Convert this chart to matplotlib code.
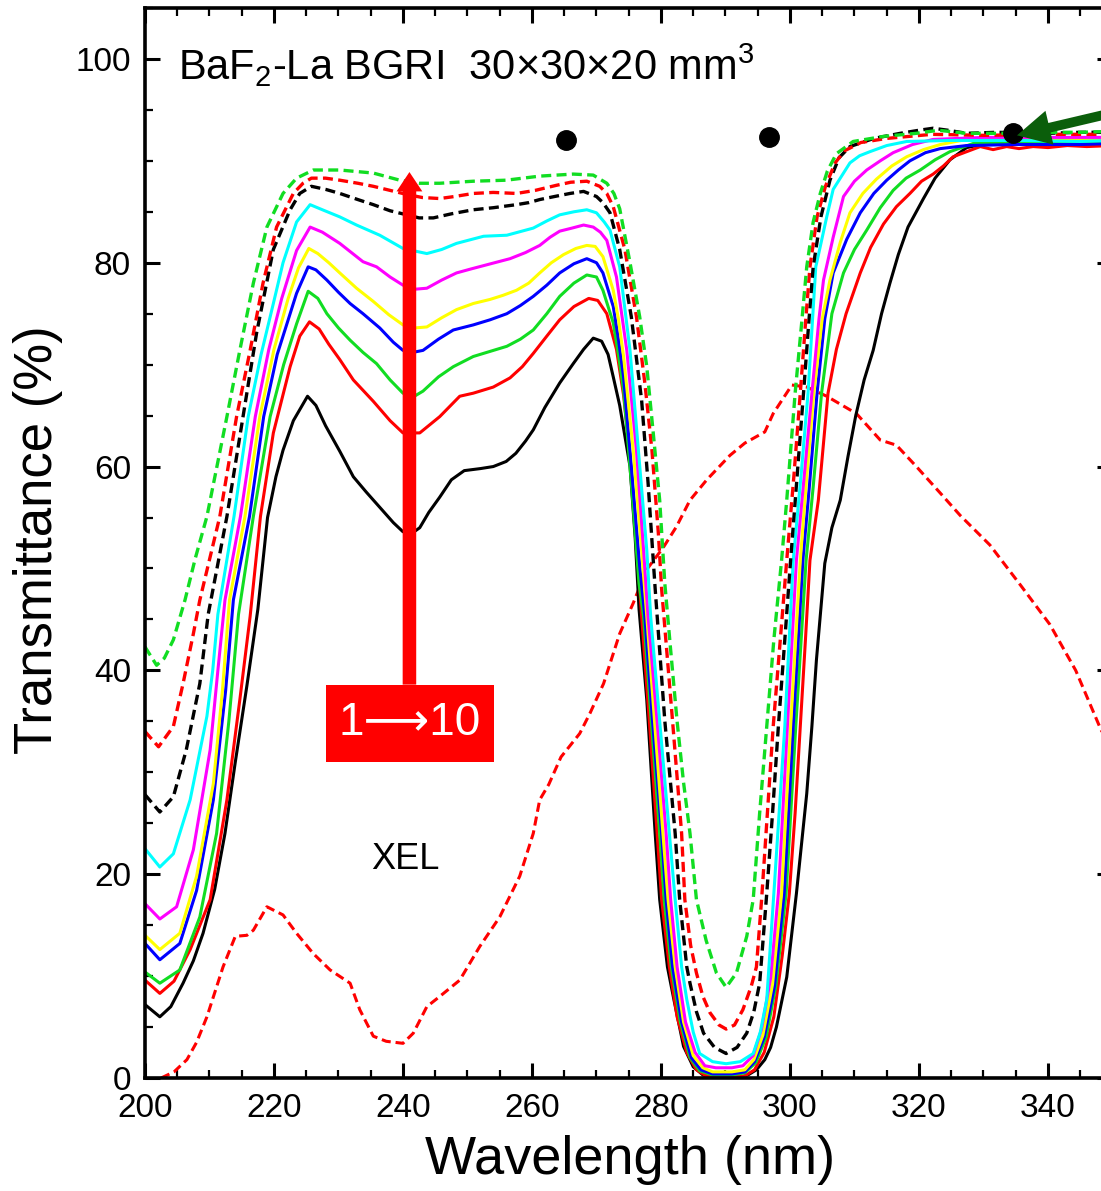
"""
BaF2-La transmittance after successive irradiations (1->10), with XEL spectrum
"""
import numpy as np
import matplotlib.pyplot as plt
from matplotlib.patches import Rectangle
from matplotlib.ticker import MultipleLocator

plt.rcParams['font.family'] = ['Liberation Sans', 'DejaVu Sans']
plt.rcParams['mathtext.default'] = 'regular'

# curve 1: black solid
wl_k = [200.0, 202.3, 204.0, 205.9, 207.5, 209.0, 210.8, 212.4, 214.0, 215.8, 217.5, 219.0, 220.3, 221.4, 223.0, 225.2, 226.5, 228.0, 230.2, 232.3,
        234.3, 236.4, 238.5, 240.0, 241.5, 242.6, 244.0, 245.7, 247.5, 249.5, 252.0, 254.0, 256.0, 257.5, 259.0, 260.2, 262.0, 264.3, 266.4, 268.0,
        269.5, 270.8, 271.8, 272.6, 273.6, 274.4, 275.2, 276.0, 276.6, 277.8, 279.1, 279.8, 280.4, 281.0, 282.0, 283.5, 285.0, 286.5, 288.0, 292.0,
        293.5, 294.8, 296.1, 297.0, 297.9, 299.5, 301.0, 302.6, 303.4, 304.1, 305.4, 306.5, 307.8, 309.0, 310.2, 311.5, 312.9, 314.2, 315.5, 316.8,
        318.3, 320.7, 322.5, 324.8, 327.4, 330.5, 335.0, 340.0, 345.0, 350.0]
t_k = [7.2, 6.0, 7.0, 9.3, 11.5, 14.2, 18.5, 24.0, 31.0, 38.5, 46.0, 55.0, 59.0, 61.6, 64.5, 66.9, 66.0, 64.0, 61.5, 59.0,
       57.5, 56.0, 54.5, 53.6, 53.5, 54.0, 55.5, 57.0, 58.7, 59.6, 59.8, 60.0, 60.5, 61.3, 62.5, 63.6, 65.8, 68.2, 70.1, 71.5,
       72.6, 72.3, 71.0, 68.8, 66.0, 63.0, 60.0, 53.0, 46.0, 37.1, 24.0, 17.5, 14.2, 10.9, 7.7, 3.1, 1.1, 0.3, 0.0, 0.0,
       0.3, 0.8, 1.8, 3.0, 5.0, 9.9, 18.1, 27.9, 34.5, 41.0, 50.5, 54.0, 56.7, 61.0, 65.0, 68.5, 71.4, 75.0, 78.0, 80.8,
       83.5, 86.3, 88.3, 90.1, 91.3, 91.7, 92.0, 92.0, 92.0, 92.1]

# curve 2: red solid
wl_r = [200.0, 202.3, 204.5, 207.0, 210.1, 212.7, 214.7, 216.3, 217.9, 219.9, 222.5, 224.0, 225.5, 227.0, 228.5, 230.2, 232.3, 235.4, 238.0, 240.0,
        242.6, 245.7, 248.8, 250.9, 254.0, 256.6, 258.5, 260.2, 262.3, 264.3, 266.5, 268.8, 270.2, 271.6, 273.1, 274.2, 275.2, 276.2, 277.0, 278.2,
        279.4, 280.1, 281.3, 282.5, 284.0, 285.5, 287.0, 290.0, 293.0, 294.5, 296.0, 297.5, 298.8, 299.9, 300.8, 301.6, 302.4, 303.1, 304.4, 305.9,
        307.2, 308.7, 310.9, 312.5, 314.5, 316.5, 318.6, 320.4, 322.2, 323.8, 325.3, 327.4, 329.5, 331.5, 333.6, 335.5, 337.7, 340.0, 343.0, 346.0,
        350.0]
t_r = [9.6, 8.3, 9.5, 12.6, 17.5, 27.3, 37.1, 45.3, 55.1, 63.3, 69.8, 72.8, 74.2, 73.5, 72.0, 70.5, 68.5, 66.4, 64.5, 63.3,
       63.3, 64.9, 66.9, 67.2, 67.8, 68.7, 69.8, 71.1, 72.8, 74.4, 75.7, 76.5, 76.3, 75.0, 71.5, 67.0, 61.0, 53.0, 45.3, 35.0,
       24.0, 17.5, 10.9, 6.0, 2.5, 0.8, 0.2, 0.1, 0.2, 0.8, 2.5, 6.0, 12.0, 18.1, 26.0, 34.5, 43.0, 50.8, 56.7, 67.2,
       71.5, 75.0, 79.0, 81.5, 83.8, 85.5, 86.8, 88.0, 88.7, 89.5, 90.4, 90.9, 91.4, 91.1, 91.4, 91.2, 91.4, 91.3, 91.5, 91.4,
       91.5]

# curve 3: green solid
wl_g = [200.0, 202.3, 205.4, 208.5, 211.1, 213.0, 214.5, 216.8, 219.4, 221.5, 223.5, 225.3, 226.8, 228.2, 230.0, 231.8, 233.8, 235.9, 238.0, 240.0,
        241.5, 243.1, 245.5, 247.8, 250.9, 253.5, 256.1, 258.2, 260.2, 262.3, 264.3, 266.5, 268.5, 270.0, 271.0, 272.6, 273.4, 274.2, 275.4, 276.6,
        277.3, 278.5, 279.8, 280.5, 281.6, 283.0, 284.5, 286.0, 288.0, 291.0, 293.0, 294.7, 296.3, 297.8, 299.4, 300.9, 302.5, 303.6, 304.9, 306.5,
        308.3, 310.0, 311.9, 314.0, 316.0, 318.0, 320.2, 322.5, 324.8, 328.4, 335.0, 340.0, 350.0]
t_g = [10.4, 9.3, 10.6, 15.8, 24.0, 35.0, 45.5, 55.1, 64.9, 70.0, 74.0, 77.2, 76.5, 75.0, 73.6, 72.4, 71.2, 70.1, 68.5, 67.2,
       66.8, 67.4, 68.8, 69.8, 70.8, 71.3, 71.8, 72.5, 73.4, 75.0, 76.7, 78.0, 78.8, 78.6, 77.3, 74.1, 71.0, 67.5, 58.4, 48.5,
       45.3, 35.0, 24.0, 17.5, 10.9, 5.5, 2.0, 0.7, 0.3, 0.3, 0.5, 1.5, 4.0, 9.0, 18.1, 34.5, 50.8, 58.0, 67.2, 75.0,
       79.0, 81.3, 83.2, 85.4, 87.1, 88.3, 89.1, 90.1, 90.9, 91.7, 91.8, 91.8, 91.9]

# curve 4: blue
wl_b = [200.0, 202.3, 205.4, 208.0, 210.6, 212.5, 213.7, 216.2, 218.4, 220.5, 223.5, 225.3, 226.5, 228.2, 230.0, 231.8, 233.8, 236.4, 238.5, 240.0,
        241.5, 243.1, 245.5, 247.8, 250.9, 253.5, 256.1, 258.2, 260.2, 262.3, 264.3, 266.5, 268.5, 270.0, 271.0, 272.6, 273.4, 274.2, 275.4, 276.7,
        277.5, 278.7, 280.1, 280.8, 281.8, 283.2, 284.7, 286.2, 288.0, 291.0, 293.0, 294.5, 296.0, 297.6, 299.1, 300.5, 302.0, 303.0, 304.2, 305.4,
        306.7, 308.8, 310.9, 313.0, 315.0, 316.8, 318.6, 321.0, 323.3, 327.4, 335.0, 340.0, 345.0, 350.0]
t_b = [13.2, 11.6, 13.2, 18.4, 27.3, 38.0, 46.9, 55.1, 64.9, 71.0, 77.0, 79.6, 79.3, 78.3, 77.1, 76.0, 75.0, 73.6, 72.2, 71.4,
       71.2, 71.4, 72.5, 73.4, 73.9, 74.4, 75.0, 75.8, 76.7, 77.8, 79.0, 79.9, 80.4, 80.0, 79.0, 75.7, 72.5, 68.8, 60.0, 50.2,
       45.3, 35.0, 24.0, 17.5, 10.9, 5.5, 2.0, 0.8, 0.4, 0.4, 0.6, 1.6, 4.0, 9.0, 18.1, 34.5, 50.8, 58.0, 67.2, 74.5,
       79.0, 82.3, 84.9, 86.8, 88.1, 89.1, 90.0, 90.8, 91.2, 91.5, 91.6, 91.6, 91.6, 91.7]

# curve 5: yellow
wl_y = [200.0, 202.3, 205.4, 208.0, 210.6, 212.0, 213.1, 215.5, 217.8, 220.0, 222.2, 223.8, 225.4, 226.8, 228.5, 230.2, 232.8, 235.4, 237.8, 240.0,
        241.8, 243.7, 246.0, 248.3, 250.9, 253.5, 255.5, 257.6, 259.5, 261.2, 263.0, 264.9, 266.8, 268.5, 269.8, 271.0, 272.6, 273.4, 274.2, 275.7,
        277.0, 277.8, 279.0, 280.3, 281.1, 282.2, 283.5, 285.0, 286.5, 288.0, 291.0, 293.0, 294.4, 295.8, 297.3, 298.7, 300.1, 301.6, 302.6, 303.7,
        305.0, 306.2, 307.8, 309.3, 311.3, 313.4, 315.8, 318.1, 320.7, 323.3, 327.4, 335.0, 340.0, 350.0]
t_y = [14.0, 12.6, 14.2, 19.8, 28.9, 38.0, 46.9, 55.1, 64.9, 71.5, 76.5, 79.5, 81.4, 80.9, 80.0, 79.0, 77.5, 76.2, 74.9, 73.9,
       73.6, 73.7, 74.6, 75.4, 76.0, 76.4, 76.8, 77.3, 78.0, 79.0, 80.0, 80.8, 81.4, 81.7, 81.6, 80.6, 77.3, 74.5, 70.8, 61.6,
       51.8, 45.3, 35.0, 24.0, 17.5, 10.9, 5.5, 2.2, 1.0, 0.6, 0.6, 0.8, 1.8, 4.2, 9.2, 18.1, 34.5, 50.8, 59.0, 67.2,
       74.5, 78.3, 82.0, 84.9, 86.8, 88.2, 89.5, 90.4, 91.1, 91.6, 92.1, 92.2, 92.2, 92.2]

# curve 6: magenta
wl_m = [200.0, 202.3, 204.9, 207.5, 210.1, 211.3, 212.4, 214.8, 217.1, 219.2, 221.2, 223.5, 225.6, 227.5, 230.2, 232.0, 233.8, 235.9, 238.0, 240.0,
        241.8, 243.7, 246.0, 248.3, 250.6, 253.0, 256.6, 259.0, 261.2, 262.8, 264.3, 266.2, 268.0, 269.5, 270.6, 271.6, 273.1, 274.7, 276.2, 277.3,
        278.0, 279.4, 280.8, 281.5, 282.5, 283.8, 285.3, 286.8, 288.5, 291.0, 292.7, 294.3, 295.6, 297.0, 298.2, 299.6, 301.0, 302.2, 303.4, 304.5,
        305.2, 306.7, 308.3, 310.0, 311.9, 314.0, 316.0, 319.0, 322.2, 330.0, 340.0, 350.0]
t_m = [17.1, 15.6, 16.8, 22.4, 32.2, 40.0, 46.9, 55.1, 64.9, 71.5, 76.5, 81.2, 83.5, 83.0, 81.9, 81.0, 80.1, 79.6, 78.6, 77.8,
       77.4, 77.5, 78.3, 79.0, 79.4, 79.8, 80.4, 81.0, 81.7, 82.5, 83.1, 83.4, 83.7, 83.5, 83.0, 82.2, 78.6, 71.4, 61.6, 51.8,
       45.3, 35.0, 24.0, 17.5, 10.9, 5.5, 2.5, 1.2, 1.0, 1.0, 1.2, 2.2, 4.8, 9.8, 18.1, 34.5, 50.8, 59.0, 67.2, 74.5,
       78.3, 82.5, 86.5, 88.0, 89.1, 90.0, 90.8, 91.6, 92.1, 92.3, 92.3, 92.3]

# curve 7: cyan
wl_c = [200.0, 202.3, 204.4, 207.0, 209.6, 210.5, 211.3, 213.8, 216.0, 218.0, 219.9, 221.4, 223.5, 225.6, 227.5, 230.2, 232.8, 236.4, 240.0, 243.7,
        246.0, 248.3, 252.5, 256.1, 260.2, 262.3, 264.3, 266.5, 268.5, 270.0, 271.2, 272.1, 273.6, 275.2, 276.5, 277.8, 278.4, 279.8, 281.3, 282.2,
        283.2, 284.0, 285.0, 286.0, 288.0, 290.1, 292.3, 294.3, 295.4, 296.4, 297.5, 299.2, 300.5, 301.7, 302.8, 304.0, 304.7, 305.7, 306.7, 307.8,
        309.3, 310.8, 312.4, 315.0, 318.1, 325.0, 335.0, 345.0, 350.0]
t_c = [22.5, 20.7, 22.0, 27.3, 35.5, 40.0, 45.5, 55.1, 64.9, 71.0, 76.0, 80.0, 84.0, 85.7, 85.2, 84.5, 83.7, 82.7, 81.4, 80.9,
       81.3, 81.9, 82.6, 82.7, 83.4, 84.1, 84.7, 85.0, 85.2, 84.9, 84.0, 83.2, 79.6, 71.4, 61.6, 51.8, 45.3, 35.0, 24.0, 17.5,
       10.9, 7.7, 4.5, 2.4, 1.6, 1.4, 1.6, 2.4, 4.5, 7.7, 18.1, 34.5, 50.8, 59.0, 67.2, 79.6, 81.6, 84.5, 87.2, 88.3,
       89.8, 90.5, 90.9, 91.5, 91.9, 92.0, 92.0, 91.9, 92.0]

# curve 8: black dashed
wl_kd = [200.0, 202.3, 204.4, 206.4, 208.5, 209.8, 212.7, 215.2, 217.3, 219.9, 222.5, 224.0, 225.8, 228.0, 230.2, 233.0, 235.4, 238.0, 240.6, 242.5,
         244.7, 247.5, 250.9, 254.0, 257.6, 259.5, 261.2, 263.5, 265.9, 268.0, 270.0, 271.0, 272.1, 273.6, 275.4, 277.0, 278.0, 279.1, 280.6, 282.2,
         282.9, 284.0, 284.5, 285.5, 286.6, 288.3, 290.1, 291.8, 293.3, 294.4, 295.3, 296.4, 297.3, 298.2, 299.2, 300.1, 301.1, 302.1, 302.9, 303.6,
         304.8, 306.2, 307.6, 309.3, 313.0, 317.1, 320.0, 322.2, 324.5, 327.4, 332.0, 340.0, 345.0, 350.0]
t_kd = [27.8, 26.1, 27.6, 32.2, 38.7, 45.5, 55.1, 64.9, 73.1, 81.3, 85.2, 86.8, 87.5, 87.2, 86.8, 86.2, 85.7, 85.1, 84.7, 84.4,
        84.4, 84.8, 85.2, 85.4, 85.7, 85.9, 86.2, 86.5, 86.8, 87.0, 86.5, 85.9, 84.9, 81.3, 74.7, 66.5, 58.4, 48.0, 35.0, 24.0,
        17.5, 10.9, 9.3, 6.5, 4.4, 3.0, 2.4, 3.0, 4.4, 6.5, 9.3, 18.1, 26.0, 34.5, 43.0, 50.8, 59.0, 67.2, 74.0, 79.6,
        84.5, 88.1, 90.3, 91.4, 92.2, 92.7, 93.0, 93.2, 93.0, 92.7, 92.8, 92.7, 92.8, 92.8]

# curve 9: red dashed
wl_rd = [200.0, 202.1, 204.4, 205.9, 207.5, 208.5, 211.6, 214.2, 216.3, 218.3, 220.4, 223.0, 224.5, 225.8, 228.0, 230.2, 233.0, 235.4, 238.0, 240.6,
         243.0, 245.7, 248.0, 250.9, 254.0, 257.6, 260.5, 263.8, 266.0, 268.5, 270.5, 271.6, 272.6, 274.4, 276.2, 277.5, 278.6, 279.6, 280.1, 281.8,
         283.2, 283.7, 284.6, 285.5, 286.5, 287.6, 289.0, 290.1, 291.4, 292.7, 294.0, 294.8, 295.6, 296.5, 297.4, 298.5, 299.5, 300.6, 301.6, 302.4,
         303.1, 304.2, 305.5, 307.0, 308.5, 311.0, 315.0, 322.0, 330.0, 340.0, 350.0]
t_rd = [34.0, 32.5, 34.5, 38.7, 43.6, 46.9, 55.1, 64.9, 71.4, 78.0, 83.5, 86.8, 87.8, 88.3, 88.3, 88.1, 87.8, 87.5, 87.1, 86.7,
        86.4, 86.3, 86.5, 86.8, 86.9, 86.8, 87.1, 87.6, 87.9, 88.0, 87.5, 86.8, 85.5, 81.3, 74.7, 68.2, 61.6, 53.4, 48.0, 35.0,
        24.0, 17.5, 13.0, 10.3, 8.0, 6.4, 5.2, 4.8, 5.2, 6.7, 9.0, 10.9, 17.5, 26.0, 34.5, 43.0, 50.8, 59.0, 67.2, 74.0,
        79.6, 84.5, 87.5, 89.8, 91.0, 91.8, 92.2, 92.6, 92.5, 92.6, 92.6]

# curve 10: green dashed
wl_gd = [200.0, 201.8, 203.0, 204.4, 206.2, 207.8, 209.6, 212.7, 214.7, 216.8, 218.9, 221.4, 223.5, 226.1, 230.2, 235.4, 239.5, 242.5, 245.7, 250.9,
         256.0, 261.2, 266.4, 269.5, 271.6, 272.7, 273.6, 275.2, 276.7, 277.8, 278.8, 279.8, 280.6, 281.5, 282.5, 283.5, 284.5, 285.5, 287.0, 288.6,
         290.1, 291.7, 293.3, 294.3, 295.3, 296.4, 297.5, 298.7, 299.5, 300.8, 301.8, 302.6, 303.6, 304.7, 305.8, 307.2, 309.8, 314.5, 319.6, 323.0,
         327.4, 332.6, 340.0, 345.0, 350.0]
t_gd = [42.3, 40.5, 41.2, 43.0, 46.9, 51.0, 55.1, 64.9, 71.4, 78.0, 83.5, 86.8, 88.3, 89.1, 89.1, 88.8, 88.1, 87.8, 87.8, 88.0,
        88.1, 88.5, 88.7, 88.6, 87.8, 86.8, 85.3, 80.0, 74.7, 69.8, 63.3, 56.7, 48.5, 42.0, 35.0, 29.0, 24.0, 17.5, 13.5, 10.3,
        8.9, 10.3, 13.9, 17.5, 26.0, 34.5, 43.0, 50.8, 56.7, 67.2, 74.0, 79.6, 84.0, 86.8, 89.0, 90.7, 91.9, 92.4, 92.7, 93.0,
        92.7, 92.7, 92.8, 92.8, 92.9]

# X-ray excited luminescence (arb. scale)
wl_xel = [202.5, 204.5, 206.5, 208.0, 209.6, 212.1, 214.0, 215.8, 216.8, 218.9, 221.4, 223.5, 226.1, 228.7, 231.8, 233.3, 235.4, 237.4, 240.0, 241.6,
          243.7, 245.7, 248.8, 251.9, 255.0, 258.1, 260.2, 261.2, 262.6, 264.5, 267.4, 269.0, 271.1, 273.6, 275.7, 277.8, 280.4, 282.4, 284.5, 287.1,
          290.7, 293.0, 296.1, 297.4, 300.3, 302.6, 305.7, 310.3, 314.0, 316.5, 319.6, 323.3, 326.4, 331.0, 335.7, 340.3, 344.3, 348.2, 350.0]
t_xel = [0.0, 0.6, 1.8, 3.5, 6.0, 10.9, 13.9, 14.0, 14.5, 16.8, 16.0, 14.2, 12.2, 10.6, 9.3, 6.7, 4.1, 3.6, 3.4, 4.4,
         7.0, 8.0, 9.6, 12.9, 15.8, 19.8, 24.0, 27.3, 28.8, 31.5, 33.8, 35.8, 38.7, 43.6, 46.6, 49.9, 52.1, 54.1, 56.7, 58.7,
         61.1, 62.3, 63.4, 65.2, 68.0, 67.8, 66.9, 65.2, 62.6, 62.1, 60.0, 57.4, 55.2, 52.3, 48.4, 44.5, 40.0, 34.2, 32.0]

dot_wl = [265.3, 296.7, 334.6]
dot_t = [92.0, 92.3, 92.7]

fig = plt.figure(figsize=(11.01, 11.91), dpi=100)
ax = fig.add_axes([0.1317, 0.0949, 0.8787, 0.8984])

dash = (0, (3.0, 1.6))
ax.plot(wl_xel, t_xel, color='red', lw=2.2, ls=dash)

curves = [(wl_k, t_k, 'black', '-'), (wl_r, t_r, 'red', '-'), (wl_g, t_g, '#11dd22', '-'),
          (wl_b, t_b, 'blue', '-'), (wl_y, t_y, '#ffff00', '-'), (wl_m, t_m, '#ff00ff', '-'),
          (wl_c, t_c, '#00ffff', '-'), (wl_kd, t_kd, 'black', dash), (wl_rd, t_rd, 'red', dash),
          (wl_gd, t_gd, '#11dd22', dash)]
for wl, t, col, ls in curves:
    ax.plot(wl, t, color=col, lw=2.4 if ls == dash else 2.2, ls=ls)

ax.plot(dot_wl, dot_t, 'o', color='black', ms=14, zorder=5)

# red arrow 1->10
ax.arrow(241.0, 38.6, 0, 50.3, width=2.1, head_width=4.0, head_length=1.9,
         length_includes_head=True, fc='red', ec='none', zorder=6)
ax.add_patch(Rectangle((228.1, 31.0), 26.0, 7.6, fc='red', ec='none', zorder=7))
ax.text(241.1, 34.8, '1\u27f610', color='white', fontsize=33, ha='center', va='center', zorder=8)

# green arrow pointing at the third dot
ax.annotate('', xy=(335.2, 92.5), xytext=(356.0, 95.6),
            arrowprops=dict(facecolor='#0b5e0b', edgecolor='none', width=7, headwidth=25, headlength=24, shrink=0),
            annotation_clip=False, zorder=9)

ax.text(205.1, 97.9, 'BaF$_2$-La BGRI  30\u00d730\u00d720 mm$^3$', fontsize=30, va='baseline', ha='left')
ax.text(240.3, 21.4, 'XEL', fontsize=26, ha='center', va='center')

ax.set_xlim(200, 350); ax.set_ylim(0, 105)
ax.set_xticks(np.arange(200, 341, 20)); ax.set_yticks(np.arange(0, 101, 20))
ax.xaxis.set_minor_locator(MultipleLocator(5)); ax.yaxis.set_minor_locator(MultipleLocator(5))
ax.tick_params(which='both', direction='in', top=True, right=True, labelsize=24, width=2.2)
ax.tick_params(axis='x', pad=11); ax.tick_params(axis='y', pad=10)
ax.tick_params(which='major', length=10.8)
ax.tick_params(which='minor', length=5.8, width=1.6)
for s in ax.spines.values():
    s.set_linewidth(2.6)

fig.text(0.0345, 0.5466, 'Transmittance (%)', rotation=90, fontsize=38, ha='center', va='center')
fig.text(0.572, 0.026, 'Wavelength (nm)', fontsize=39, ha='center', va='center')

fig.savefig('out.png', dpi=100)
